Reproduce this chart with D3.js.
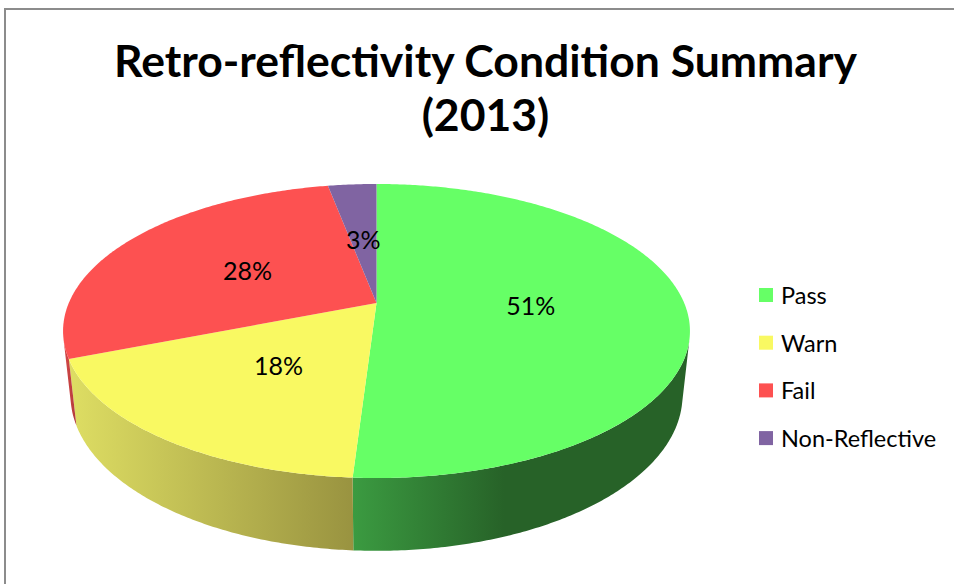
<!DOCTYPE html>
<html>
<head>
<meta charset="utf-8">
<script src="https://cdn.jsdelivr.net/npm/d3@7"></script>
<style>
body { margin: 0; background: #fff; }
svg { display: block; }
</style>
</head>
<body>
<div id="chart"></div>
<script>
const categories = ['Pass', 'Warn', 'Fail', 'Non-Reflective'];
const shares = [51, 18, 28, 3];
const title_lines = ['Retro-reflectivity Condition Summary', '(2013)'];

// styles
const top_colors = ['#66ff66', '#f9f962', '#fd5151', '#8064a2'];
const side_light = ['#3b9b41', '#dede63', '#d84848', '#6a5288'];
const side_dark = ['#276228', '#999340', '#b03a3a', '#4e3c66'];
const dark_stop = [0.45, 1, 1, 1];

const width = 954, height = 584;
const font = 'Lato, "Open Sans", sans-serif';

const svg = d3.select('#chart').append('svg')
	.attr('width', width)
	.attr('height', height);

// chart frame (runs off the right and bottom)
svg.append('path')
	.attr('d', 'M5,584V9H954')
	.attr('fill', 'none')
	.attr('stroke', '#8c8c8c')
	.attr('stroke-width', 2);

// title
svg.append('g').selectAll('text')
	.data(title_lines)
	.join('text')
	.attr('x', 485.5)
	.attr('y', (d, i) => 77 + i * 54)
	.attr('text-anchor', 'middle')
	.style('font-family', font)
	.style('font-weight', 'bold')
	.style('font-size', '44.5px')
	.attr('fill', '#000')
	.text(d => d);

// 3d perspective pie
const cx = 376.5, cy = 303;
const K = 307.7;            // screen radius at pie centre depth
const se = 0.4605, ce = Math.sqrt(1 - se * se); // elevation
const L = 4.66;             // camera distance, in radius units
const thick = 0.237;        // pie thickness, in radius units

function project(angle, rf, level) {
	const t = angle - Math.PI / 2;
	const px = rf * Math.cos(t), py = -level * thick, pz = rf * Math.sin(t);
	const depth = L - se * py - ce * pz;
	const yc = ce * py - se * pz;
	return [cx + K * L * px / depth, cy - K * L * yc / depth];
}

function arcPoints(a0, a1, rf, level) {
	const n = Math.max(2, Math.ceil(Math.abs(a1 - a0) / 0.01));
	const pts = [];
	for (let i = 0; i <= n; i++) {
		pts.push(project(a0 + (a1 - a0) * i / n, rf, level));
	}
	return pts;
}

const pie = d3.pie().sort(null).value(d => d.value);
const slices = pie(categories.map((c, i) => ({name: c, value: shares[i], idx: i})));
const total = d3.sum(shares);
const line = d3.line();

// visible part of the side wall
const vis = Math.asin(1 / (L * ce));
const visStart = vis + Math.PI / 2, visEnd = Math.PI - vis + Math.PI / 2;

const defs = svg.append('defs');
const sides = svg.append('g');
slices.forEach(s => {
	const a0 = Math.max(s.startAngle, visStart);
	const a1 = Math.min(s.endAngle, visEnd);
	if (a1 <= a0) return;
	const topRim = arcPoints(a0, a1, 1, 0);
	const botRim = arcPoints(a1, a0, 1, 1);
	const pts = topRim.concat(botRim);
	const xs = pts.map(p => p[0]);
	const i = s.data.idx;
	const g = defs.append('linearGradient')
		.attr('id', 'side' + i)
		.attr('gradientUnits', 'userSpaceOnUse')
		.attr('x1', d3.min(xs)).attr('x2', d3.max(xs))
		.attr('y1', 0).attr('y2', 0);
	g.append('stop').attr('offset', 0).attr('stop-color', side_light[i]);
	g.append('stop').attr('offset', dark_stop[i]).attr('stop-color', side_dark[i]);
	g.append('stop').attr('offset', 1).attr('stop-color', side_dark[i]);
	sides.append('path')
		.attr('d', line(pts) + 'Z')
		.attr('fill', 'url(#side' + i + ')');
});

const tops = svg.append('g');
slices.forEach(s => {
	const pts = [project(0, 0, 0)].concat(arcPoints(s.startAngle, s.endAngle, 1, 0));
	tops.append('path')
		.attr('d', line(pts) + 'Z')
		.attr('fill', top_colors[s.data.idx]);
});

// data labels
svg.append('g').selectAll('text')
	.data(slices)
	.join('text')
	.attr('x', d => project((d.startAngle + d.endAngle) / 2, 0.5, 0)[0])
	.attr('y', d => project((d.startAngle + d.endAngle) / 2, 0.5, 0)[1])
	.attr('text-anchor', 'middle')
	.attr('dominant-baseline', 'central')
	.style('font-family', font)
	.style('font-size', '25px')
	.attr('fill', '#000')
	.text(d => Math.round(d.data.value / total * 100) + '%');

// legend
const legend = svg.append('g').selectAll('g')
	.data(categories)
	.join('g')
	.attr('transform', (d, i) => 'translate(759,' + (295 + i * 47.7) + ')');
legend.append('rect')
	.attr('x', 0).attr('y', -7)
	.attr('width', 14).attr('height', 14)
	.attr('fill', (d, i) => top_colors[i]);
legend.append('text')
	.attr('x', 22)
	.attr('dominant-baseline', 'central')
	.style('font-family', font)
	.style('font-size', '23.5px')
	.attr('fill', '#000')
	.text(d => d);
</script>
</body>
</html>
